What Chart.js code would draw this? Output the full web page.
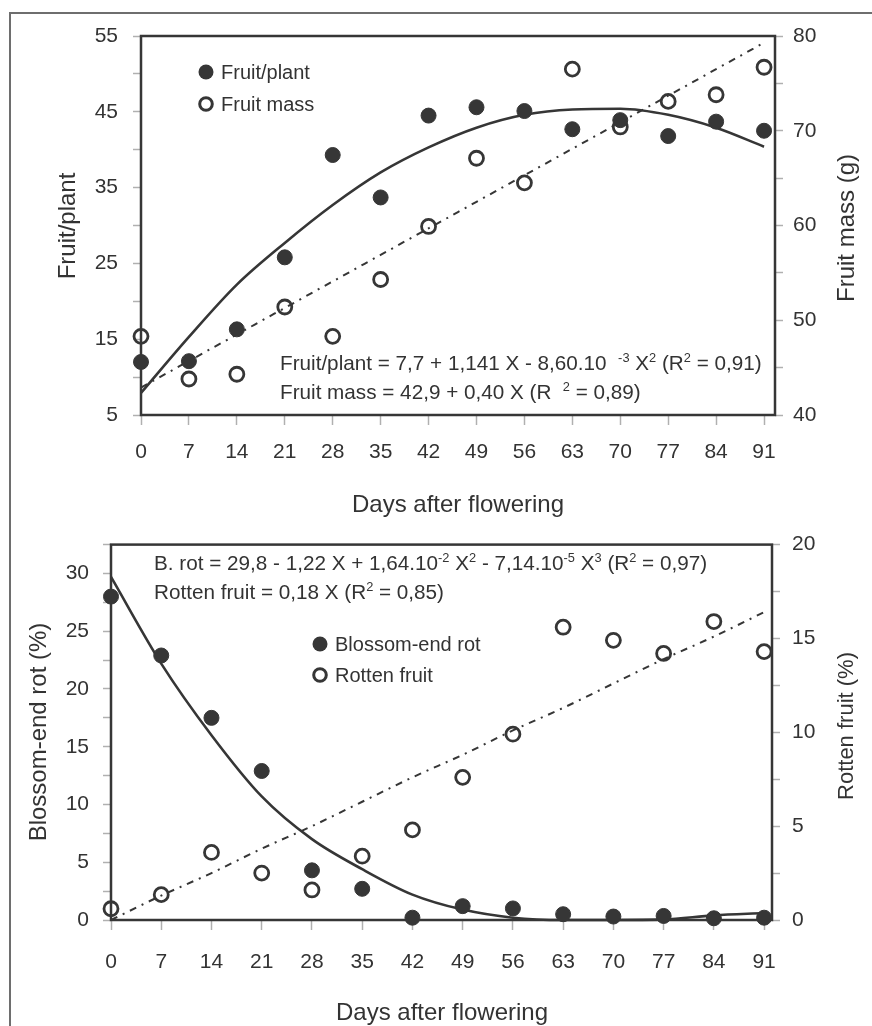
<!DOCTYPE html>
<html><head><meta charset="utf-8">
<script src="https://cdn.jsdelivr.net/npm/chart.js@4.4.0/dist/chart.umd.min.js"></script>
<style>
html,body{margin:0;padding:0;background:#fff;overflow:hidden;width:872px;height:1026px}
#frame{position:absolute;left:9px;top:12px;width:1000px;height:1100px;border-left:2px solid #6e6e6e;border-top:2px solid #6e6e6e}
#c1{position:absolute;left:0;top:0;width:872px;height:530px}
#c2{position:absolute;left:0;top:518px;width:872px;height:508px}
</style></head><body>
<div id="frame"></div>
<canvas id="c1" width="872" height="530"></canvas>
<canvas id="c2" width="872" height="508"></canvas>
<script>
// ---------- data ----------
const days = [0, 7, 14, 21, 28, 35, 42, 49, 56, 63, 70, 77, 84, 91];
const dayLabels = ['0','7','14','21','28','35','42','49','56','63','70','77','84','91'];

const fruitPerPlant    = [12.0, 12.1, 16.3, 25.8, 39.3, 33.7, 44.5, 45.6, 45.1, 42.7, 43.9, 41.8, 43.7, 42.5];
const fruitMass        = [48.3, 43.8, 44.3, 51.4, 48.3, 54.3, 59.9, 67.1, 64.5, 76.5, 70.4, 73.1, 73.8, 76.7];
const fruitPerPlantFit = [7.9, 15.3, 22.2, 27.7, 32.7, 37.0, 40.3, 42.9, 44.6, 45.3, 45.4, 44.6, 42.9, 40.4];
const fruitMassFit     = [42.9, 45.7, 48.5, 51.3, 54.1, 56.9, 59.7, 62.5, 65.3, 68.1, 70.9, 73.7, 76.5, 79.3];

const blossomEndRot    = [28.0, 22.9, 17.5, 12.9, 4.3, 2.7, 0.2, 1.2, 1.0, 0.5, 0.3, 0.35, 0.15, 0.2];
const rottenFruit      = [0.6, 1.35, 3.6, 2.5, 1.6, 3.4, 4.8, 7.6, 9.9, 15.6, 14.9, 14.2, 15.9, 14.3];
const blossomEndRotFit = [29.7, 22.2, 16.0, 10.7, 7.0, 4.4, 2.2, 0.9, 0.2, 0, 0, 0.05, 0.4, 0.6];
const rottenFruitFit   = [0, 1.3, 2.5, 3.8, 5.0, 6.3, 7.6, 8.8, 10.1, 11.3, 12.6, 13.9, 15.1, 16.4];

const fruitPlantTickLabels = [5, 15, 25, 35, 45, 55];
const fruitMassTickLabels  = [40, 50, 60, 70, 80];
const berTickLabels        = [0, 5, 10, 15, 20, 25, 30];
const rottenTickLabels     = [0, 5, 10, 15, 20];

// ---------- style ----------
const FONT = "'Liberation Sans', Arial, Helvetica, sans-serif";
const INK = '#363636';
const TXT = '#333333';
const TICKC = '#b0b0b0';
Chart.defaults.font.family = FONT;
Chart.defaults.color = TXT;

const pts = (ys) => days.map((d, i) => ({x: d, y: ys[i]}));

function drawRich(ctx, x, y, parts, size) {
  let cx = x;
  for (const p of parts) {
    const sup = p[1];
    const fs = sup ? size * 0.62 : size;
    ctx.font = fs + 'px ' + FONT;
    ctx.fillText(p[0], cx, sup ? y - size * 0.4 : y);
    cx += ctx.measureText(p[0]).width;
  }
}

const decor = {
  id: 'decor',
  beforeDatasetsDraw(chart) {
    const {ctx, chartArea: a} = chart;
    ctx.save();
    ctx.strokeStyle = INK; ctx.lineWidth = 2.5;
    ctx.strokeRect(a.left, a.top, a.right - a.left, a.bottom - a.top);
    ctx.restore();
  },
  afterDraw(chart, args, o) {
    const ctx = chart.ctx;
    ctx.save();
    ctx.fillStyle = TXT;
    ctx.textBaseline = 'middle';
    ctx.textAlign = 'center';
    for (const t of o.titles || []) {
      ctx.save();
      ctx.translate(t.x, t.y);
      if (t.rot) ctx.rotate(t.rot);
      ctx.font = t.size + 'px ' + FONT;
      ctx.fillText(t.text, 0, 0);
      ctx.restore();
    }
    ctx.textAlign = 'left';
    ctx.textBaseline = 'alphabetic';
    for (const e of o.equations || []) drawRich(ctx, e.x, e.y, e.parts, e.size);
    ctx.textBaseline = 'middle';
    for (const l of o.legend || []) {
      ctx.beginPath();
      if (l.filled) {
        ctx.fillStyle = INK;
        ctx.arc(l.x, l.y, 7.5, 0, Math.PI * 2);
        ctx.fill();
      } else {
        ctx.strokeStyle = INK; ctx.lineWidth = 3;
        ctx.arc(l.x, l.y, 6.3, 0, Math.PI * 2);
        ctx.stroke();
      }
      ctx.fillStyle = TXT;
      ctx.font = l.size + 'px ' + FONT;
      ctx.fillText(l.label, l.x + 15, l.y + 1);
    }
    ctx.restore();
  }
};

function xScale(max, padding, h) {
  return {
    type: 'linear', min: 0, max: max,
    afterBuildTicks: (s) => { s.ticks = days.map(v => ({value: v})); },
    afterFit: (s) => { s.height = h; },
    ticks: { autoSkip: false, maxRotation: 0, padding: padding, font: {size: 21}, color: TXT,
             callback: (v) => { const i = days.indexOf(v); return i >= 0 ? dayLabels[i] : ''; } },
    grid: { drawOnChartArea: false, drawTicks: true, tickLength: 10, tickColor: TICKC, tickWidth: 1.5 },
    border: { display: false }
  };
}
function yScale(pos, min, max, step, labels, w, padding) {
  return {
    type: 'linear', position: pos, min: min, max: max,
    afterFit: (s) => { s.width = w; },
    ticks: { stepSize: step, autoSkip: false, padding: padding, font: {size: 21}, color: TXT,
             callback: (v) => labels.includes(v) ? String(v) : '' },
    grid: { drawOnChartArea: false, drawTicks: true, tickLength: 8, tickColor: TICKC, tickWidth: 1.5 },
    border: { display: false }
  };
}

const scatterDs = (label, data, axis, filled, r) => ({
  type: 'scatter', label, data, yAxisID: axis, clip: false,
  pointStyle: 'circle', pointRadius: r, pointHoverRadius: r,
  pointBackgroundColor: filled ? INK : 'rgba(255,255,255,0)',
  pointBorderColor: INK, pointBorderWidth: filled ? 1 : 2.8, showLine: false
});
const lineDs = (label, data, axis, dash) => ({
  type: 'line', label, data, yAxisID: axis, clip: false,
  borderColor: INK, borderWidth: dash ? 2 : 2.6, borderDash: dash || [],
  pointRadius: 0, fill: false, cubicInterpolationMode: 'monotone'
});

// ---------- top chart ----------
new Chart(document.getElementById('c1'), {
  type: 'scatter',
  data: { datasets: [
    scatterDs('Fruit/plant', pts(fruitPerPlant), 'y', true, 7.5),
    scatterDs('Fruit mass', pts(fruitMass), 'y1', false, 7),
    lineDs('Fruit/plant fit', pts(fruitPerPlantFit), 'y', null),
    lineDs('Fruit mass fit', pts(fruitMassFit), 'y1', [7, 6, 2, 6])
  ]},
  options: {
    responsive: false, animation: false,
    layout: { padding: { top: 36, left: 0, right: 0, bottom: 0 } },
    plugins: {
      legend: { display: false }, tooltip: { enabled: false },
      decor: {
        titles: [
          { text: 'Days after flowering', x: 458, y: 505, size: 24 },
          { text: 'Fruit/plant', x: 68, y: 226, size: 24, rot: -Math.PI / 2 },
          { text: 'Fruit mass (g)', x: 847, y: 228, size: 24, rot: -Math.PI / 2 }
        ],
        equations: [
          { x: 280, y: 370, size: 20.7, parts: [['Fruit/plant = 7,7 + 1,141 X - 8,60.10  '], ['-3', 1], [' X'], ['2', 1], [' (R'], ['2', 1], [' = 0,91)']] },
          { x: 280, y: 399, size: 20.7, parts: [['Fruit mass = 42,9 + 0,40 X (R  '], ['2', 1], [' = 0,89)']] }
        ],
        legend: [
          { label: 'Fruit/plant', filled: true, x: 206, y: 72, size: 20 },
          { label: 'Fruit mass', filled: false, x: 206, y: 104, size: 20 }
        ]
      }
    },
    scales: {
      x: xScale(92.6, 15, 115),
      y: yScale('left', 5, 55, 5, fruitPlantTickLabels, 141, 15),
      y1: yScale('right', 40, 80, 5, fruitMassTickLabels, 97, 10)
    }
  },
  plugins: [decor]
});

// ---------- bottom chart ----------
new Chart(document.getElementById('c2'), {
  type: 'scatter',
  data: { datasets: [
    scatterDs('Blossom-end rot', pts(blossomEndRot), 'y', true, 7.5),
    scatterDs('Rotten fruit', pts(rottenFruit), 'y1', false, 7),
    lineDs('Blossom-end rot fit', pts(blossomEndRotFit), 'y', null),
    lineDs('Rotten fruit fit', pts(rottenFruitFit), 'y1', [7, 6, 2, 6])
  ]},
  options: {
    responsive: false, animation: false,
    layout: { padding: { top: 25, left: 0, right: 0, bottom: 0 } },
    plugins: {
      legend: { display: false }, tooltip: { enabled: false },
      decor: {
        titles: [
          { text: 'Days after flowering', x: 442, y: 495, size: 24 },
          { text: 'Blossom-end rot (%)', x: 39, y: 214, size: 24, rot: -Math.PI / 2 },
          { text: 'Rotten fruit (%)', x: 847, y: 208, size: 22, rot: -Math.PI / 2 }
        ],
        equations: [
          { x: 154, y: 52, size: 20.7, parts: [['B. rot = 29,8 - 1,22 X + 1,64.10'], ['-2', 1], [' X'], ['2', 1], [' - 7,14.10'], ['-5', 1], [' X'], ['3', 1], [' (R'], ['2', 1], [' = 0,97)']] },
          { x: 154, y: 81, size: 20.7, parts: [['Rotten fruit = 0,18 X (R'], ['2', 1], [' = 0,85)']] }
        ],
        legend: [
          { label: 'Blossom-end rot', filled: true, x: 320, y: 126, size: 20 },
          { label: 'Rotten fruit', filled: false, x: 320, y: 157, size: 20 }
        ]
      }
    },
    scales: {
      x: xScale(92.1, 20, 106),
      y: yScale('left', 0, 32.5, 2.5, berTickLabels, 111, 14),
      y1: yScale('right', 0, 20, 2.5, rottenTickLabels, 100, 12)
    }
  },
  plugins: [decor]
});
</script>
</body></html>
